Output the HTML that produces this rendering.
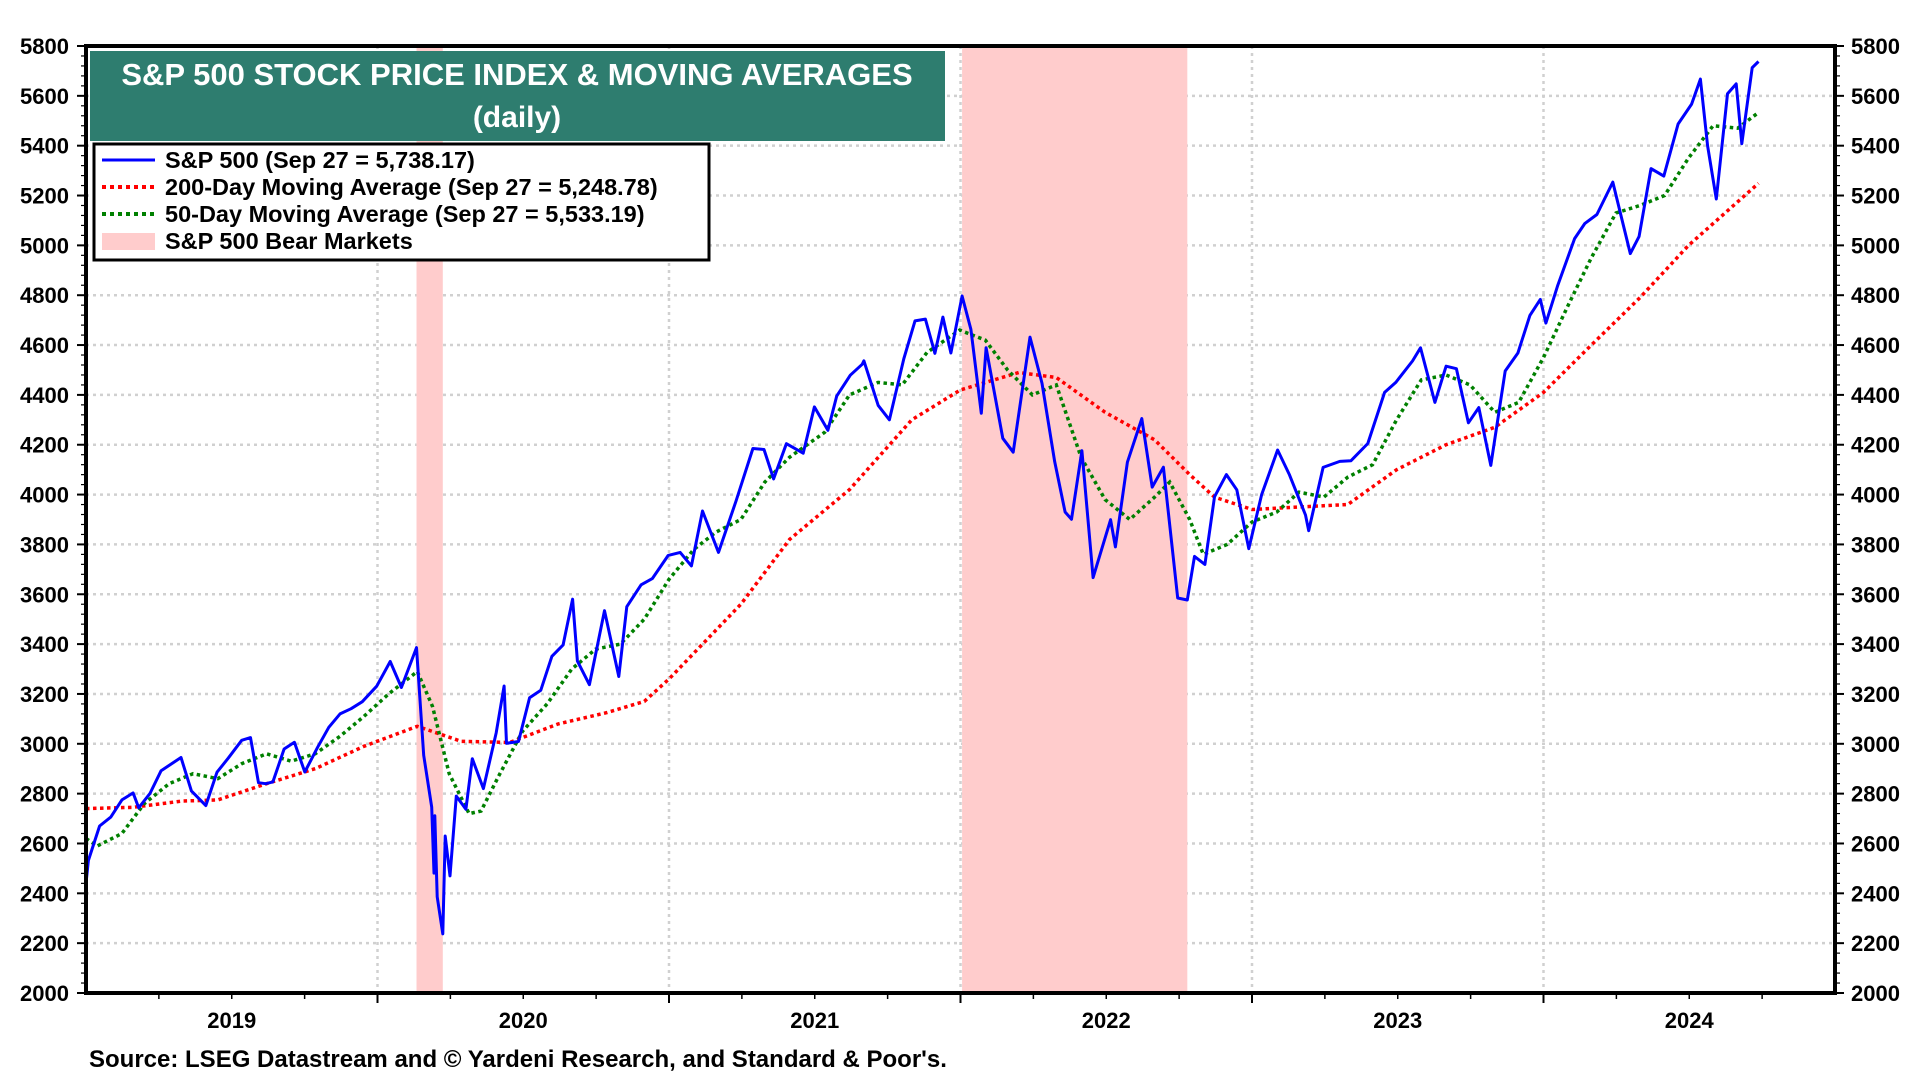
<!DOCTYPE html>
<html><head><meta charset="utf-8"><title>S&P 500 Moving Averages</title>
<style>
html,body{margin:0;padding:0;background:#fff;}
svg{display:block;font-family:"Liberation Sans",Arial,sans-serif;font-weight:bold;}
</style></head>
<body>
<svg id="chart" width="1920" height="1080" viewBox="0 0 1920 1080" xmlns="http://www.w3.org/2000/svg">
<g id="grid"></g>
<g id="bears"></g>
<g id="series"></g>
<g id="axes"></g>
<rect x="90" y="51" width="855" height="90" fill="#2e7d6f"/>
<text x="517" y="85" font-size="31" fill="#fff" text-anchor="middle">S&amp;P 500 STOCK PRICE INDEX &amp; MOVING AVERAGES</text>
<text x="517" y="127" font-size="30" fill="#fff" text-anchor="middle">(daily)</text>
<g>
<rect x="94" y="144" width="615" height="116" fill="#fff" stroke="#000" stroke-width="3"/>
<line x1="102" y1="160" x2="155" y2="160" stroke="#0000ff" stroke-width="3"/>
<text x="165" y="168" font-size="23.5">S&amp;P 500 (Sep 27 = 5,738.17)</text>
<line x1="102" y1="187" x2="155" y2="187" stroke="#ff0000" stroke-width="4" stroke-dasharray="4,4"/>
<text x="165" y="195" font-size="23.5">200-Day Moving Average (Sep 27 = 5,248.78)</text>
<line x1="102" y1="214" x2="155" y2="214" stroke="#008000" stroke-width="4" stroke-dasharray="4,4"/>
<text x="165" y="222" font-size="23.5">50-Day Moving Average (Sep 27 = 5,533.19)</text>
<rect x="102" y="233" width="53" height="17" fill="#ffcccc"/>
<text x="165" y="249" font-size="23.5">S&amp;P 500 Bear Markets</text>
</g>
<text x="89" y="1067" font-size="24">Source: LSEG Datastream and © Yardeni Research, and Standard &amp; Poor's.</text>
</svg>
<script>
const spDates=["2019-01-01","2019-01-04","2019-01-18","2019-02-01","2019-02-15","2019-03-01","2019-03-08","2019-03-22","2019-04-05","2019-04-30","2019-05-13","2019-05-31","2019-06-14","2019-06-28","2019-07-15","2019-07-26","2019-08-05","2019-08-14","2019-08-23","2019-09-06","2019-09-19","2019-10-02","2019-10-18","2019-11-01","2019-11-15","2019-11-29","2019-12-13","2019-12-31","2020-01-17","2020-01-31","2020-02-19","2020-02-28","2020-03-09","2020-03-12","2020-03-13","2020-03-16","2020-03-23","2020-03-26","2020-04-01","2020-04-09","2020-04-21","2020-04-29","2020-05-13","2020-05-29","2020-06-08","2020-06-11","2020-06-26","2020-07-10","2020-07-24","2020-08-07","2020-08-21","2020-09-02","2020-09-08","2020-09-23","2020-10-12","2020-10-30","2020-11-09","2020-11-27","2020-12-11","2020-12-31","2021-01-15","2021-01-29","2021-02-12","2021-03-04","2021-03-26","2021-04-16","2021-04-30","2021-05-12","2021-05-28","2021-06-18","2021-07-02","2021-07-19","2021-07-30","2021-08-16","2021-08-31","2021-09-02","2021-09-20","2021-10-04","2021-10-22","2021-11-05","2021-11-18","2021-11-30","2021-12-10","2021-12-20","2022-01-03","2022-01-14","2022-01-27","2022-02-02","2022-02-23","2022-03-08","2022-03-29","2022-04-13","2022-04-29","2022-05-12","2022-05-20","2022-06-02","2022-06-16","2022-07-08","2022-07-14","2022-07-29","2022-08-16","2022-08-29","2022-09-12","2022-09-30","2022-10-12","2022-10-21","2022-11-03","2022-11-15","2022-11-30","2022-12-13","2022-12-28","2023-01-13","2023-02-02","2023-02-17","2023-03-09","2023-03-13","2023-03-31","2023-04-21","2023-05-05","2023-05-26","2023-06-16","2023-06-30","2023-07-21","2023-07-31","2023-08-18","2023-09-01","2023-09-14","2023-09-29","2023-10-12","2023-10-27","2023-11-14","2023-11-30","2023-12-15","2023-12-28","2024-01-04","2024-01-19","2024-02-09","2024-02-22","2024-03-08","2024-03-28","2024-04-19","2024-04-30","2024-05-15","2024-05-31","2024-06-18","2024-07-05","2024-07-16","2024-07-25","2024-08-05","2024-08-19","2024-08-30","2024-09-06","2024-09-19","2024-09-27"];
const spValues=[2440,2532,2670,2706,2775,2803,2743,2800,2892,2945,2811,2752,2886,2942,3014,3025,2844,2840,2847,2979,3006,2887,2986,3066,3120,3141,3169,3231,3330,3226,3386,2954,2746,2481,2711,2386,2237,2630,2470,2790,2737,2940,2820,3044,3232,3002,3009,3185,3215,3351,3397,3580,3332,3237,3534,3270,3550,3638,3663,3756,3768,3714,3934,3768,3975,4185,4181,4063,4204,4166,4352,4258,4395,4479,4523,4537,4358,4300,4545,4697,4704,4567,4712,4568,4797,4663,4326,4589,4226,4170,4632,4447,4132,3930,3901,4176,3667,3899,3790,4130,4305,4030,4110,3585,3577,3752,3720,3991,4080,4019,3783,3999,4179,4079,3918,3855,4109,4133,4136,4205,4410,4450,4536,4589,4370,4515,4505,4288,4349,4117,4496,4568,4719,4783,4688,4840,5027,5088,5124,5254,4967,5036,5308,5278,5487,5567,5667,5399,5186,5608,5648,5408,5713,5738];
const ma200Dates=["2019-01-01","2019-03-01","2019-05-01","2019-06-15","2019-08-15","2019-10-15","2019-12-15","2020-02-20","2020-04-15","2020-06-15","2020-08-15","2020-10-15","2020-12-01","2021-01-01","2021-04-01","2021-06-01","2021-08-15","2021-11-01","2022-01-01","2022-03-15","2022-05-01","2022-07-01","2022-09-01","2022-10-15","2022-11-15","2023-01-01","2023-03-01","2023-05-01","2023-07-01","2023-09-01","2023-11-01","2024-01-01","2024-03-01","2024-05-01","2024-07-01","2024-09-27"];
const ma200Values=[2740,2745,2770,2775,2840,2900,2990,3070,3010,3005,3080,3125,3170,3260,3560,3820,4020,4300,4420,4490,4470,4330,4220,4080,3990,3940,3950,3960,4100,4200,4270,4410,4600,4790,5000,5249];
const ma50Dates=["2019-01-01","2019-01-15","2019-02-15","2019-03-15","2019-04-15","2019-05-15","2019-06-15","2019-07-15","2019-08-15","2019-09-15","2019-10-15","2019-11-15","2019-12-15","2020-01-15","2020-02-20","2020-03-10","2020-03-31","2020-04-25","2020-05-10","2020-06-01","2020-07-01","2020-08-01","2020-09-01","2020-10-01","2020-11-01","2020-12-01","2021-01-01","2021-02-01","2021-03-01","2021-04-01","2021-05-01","2021-06-01","2021-07-15","2021-08-15","2021-09-20","2021-10-20","2021-11-20","2021-12-31","2022-02-01","2022-03-01","2022-04-01","2022-05-01","2022-06-01","2022-07-01","2022-08-01","2022-09-01","2022-09-20","2022-10-15","2022-11-01","2022-12-01","2023-01-01","2023-02-01","2023-03-01","2023-04-01","2023-05-01","2023-06-01","2023-07-01","2023-08-01","2023-09-01","2023-10-01","2023-11-01","2023-12-01","2024-01-01","2024-02-01","2024-03-01","2024-04-01","2024-05-01","2024-06-01","2024-07-01","2024-08-01","2024-09-01","2024-09-27"];
const ma50Values=[2620,2590,2640,2760,2840,2880,2860,2920,2960,2930,2960,3030,3110,3200,3290,3150,2880,2720,2730,2870,3050,3160,3300,3380,3400,3500,3660,3780,3850,3900,4050,4150,4250,4400,4450,4440,4570,4660,4620,4500,4400,4440,4150,3980,3900,3990,4050,3900,3760,3800,3890,3930,4010,3990,4070,4120,4300,4460,4480,4440,4330,4370,4550,4760,4950,5130,5160,5200,5350,5480,5470,5533];
const bearStarts=["2020-02-19","2022-01-03"];
const bearEnds=["2020-03-23","2022-10-12"];
const yTicks=[2000,2200,2400,2600,2800,3000,3200,3400,3600,3800,4000,4200,4400,4600,4800,5000,5200,5400,5600,5800];
const yearLabels=["2019","2020","2021","2022","2023","2024"];

const NS="http://www.w3.org/2000/svg";
const X0=86,X1=1835,Y0=993,Y1=46;
function yearFrac(s){const d=new Date(s+"T00:00:00Z");const y=d.getUTCFullYear();const a=Date.UTC(y,0,1),b=Date.UTC(y+1,0,1);return y+(d-a)/(b-a);}
function xs(s){return X0+(yearFrac(s)-2019)*(X1-X0)/6;}
function xy(yr){return X0+(yr-2019)*(X1-X0)/6;}
function ys(v){return Y0-(v-2000)*(Y0-Y1)/3800;}
function mk(tag,attrs,parent){const e=document.createElementNS(NS,tag);for(const k in attrs)e.setAttribute(k,attrs[k]);parent.appendChild(e);return e;}
const grid=document.getElementById('grid'),bears=document.getElementById('bears'),series=document.getElementById('series'),axes=document.getElementById('axes');

yTicks.forEach(v=>{
  const y=ys(v);
  if(v>2000&&v<5800){const g=mk('line',{x1:X0,x2:X1,y1:y,y2:y,stroke:'#d0d0d0','stroke-width':2.5,'stroke-dasharray':'3,4'},grid);
  
  }
  const l=mk('text',{x:69,y:y+8,'font-size':22,'text-anchor':'end'},axes);l.textContent=v;
  
  
  const r=mk('text',{x:1851,y:y+8,'font-size':22},axes);r.textContent=v;
  
  
  mk('line',{x1:X0-9,x2:X0,y1:y,y2:y,stroke:'#000','stroke-width':2},axes);
  mk('line',{x1:X1,x2:X1+9,y1:y,y2:y,stroke:'#000','stroke-width':2},axes);
});
for(let v=2000;v<5800;v+=40){const y=ys(v);
  mk('line',{x1:X0-5,x2:X0,y1:y,y2:y,stroke:'#000','stroke-width':1.2},axes);
  mk('line',{x1:X1,x2:X1+5,y1:y,y2:y,stroke:'#000','stroke-width':1.2},axes);}
yearLabels.forEach((lab,i)=>{
  const yr=2019+i;
  if(i>0){const g=mk('line',{x1:xy(yr),x2:xy(yr),y1:Y1,y2:Y0,stroke:'#d0d0d0','stroke-width':2.5,'stroke-dasharray':'3,4'},grid);
  
  
  mk('line',{x1:xy(yr),x2:xy(yr),y1:Y0,y2:Y0+10,stroke:'#000','stroke-width':2},axes);}
  for(let q=1;q<4;q++)mk('line',{x1:xy(yr+q/4),x2:xy(yr+q/4),y1:Y0,y2:Y0+6,stroke:'#000','stroke-width':1.5},axes);
  const t=mk('text',{x:xy(yr+0.5),y:1028,'font-size':22,'text-anchor':'middle'},axes);t.textContent=lab;
  
  
});
bearStarts.forEach((s,i)=>{
  const r=mk('rect',{x:xs(s),y:Y1,width:xs(bearEnds[i])-xs(s),height:Y0-Y1,fill:'#ffcccc'},bears);
  
  
});
function path(dates,vals,attrs,name){
  const d=dates.map((s,i)=>(i?'L':'M')+xs(s).toFixed(1)+','+ys(vals[i]).toFixed(1)).join('');
  const p=mk('path',Object.assign({d:d,fill:'none'},attrs),series);
  
  
}
path(ma200Dates,ma200Values,{stroke:'#ff0000','stroke-width':3.5,'stroke-dasharray':'3.5,3.5'},'ma200-line');
path(ma50Dates,ma50Values,{stroke:'#008000','stroke-width':3.5,'stroke-dasharray':'3.5,3.5'},'ma50-line');
path(spDates,spValues,{stroke:'#0000ff','stroke-width':3,'stroke-linejoin':'round'},'sp500-line');
const frame=mk('rect',{x:X0,y:Y1,width:X1-X0,height:Y0-Y1,fill:'none',stroke:'#000','stroke-width':4},axes);


</script>
</body></html>
